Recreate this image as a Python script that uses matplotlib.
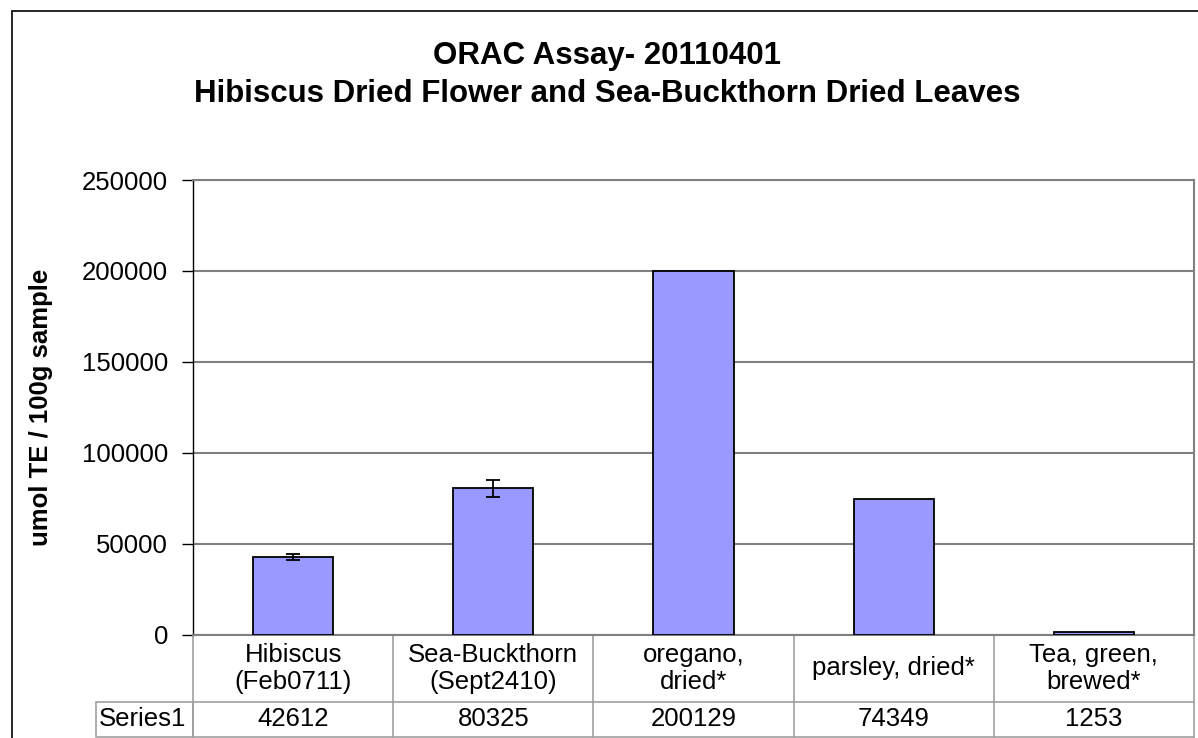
import numpy as np
import matplotlib.pyplot as plt
from matplotlib.patches import Rectangle
from matplotlib.transforms import blended_transform_factory

plt.rcParams['font.family'] = ['Liberation Sans', 'DejaVu Sans']

categories = ['Hibiscus\n(Feb0711)', 'Sea-Buckthorn\n(Sept2410)', 'oregano,\ndried*',
              'parsley, dried*', 'Tea, green,\nbrewed*']
values = [42612, 80325, 200129, 74349, 1253]
errors = [1900, 4700, 0, 0, 0]
series_name = 'Series1'
yticks = [0, 50000, 100000, 150000, 200000, 250000]

W, H = 1198, 738
fig = plt.figure(figsize=(W / 100, H / 100), dpi=100)
ax = fig.add_axes([193 / W, 1 - 634.5 / H, (1194 - 193) / W, (634.5 - 180) / H])

x = np.arange(len(values))
ax.bar(x, values, width=0.4, color='#9999FF', edgecolor='black', linewidth=1.3, zorder=3)
ax.errorbar(x[:2], values[:2], yerr=errors[:2], fmt='none', ecolor='black',
            elinewidth=1.3, capsize=5, capthick=1.3, zorder=4)

ax.set_xlim(-0.5, len(values) - 0.5)
ax.set_ylim(0, 250000)
ax.set_yticks(yticks)
ax.set_yticklabels([str(t) for t in yticks], fontsize=18.5)
ax.tick_params(axis='y', direction='out', length=8, width=1, pad=10)
ax.set_xticks([])
ax.yaxis.grid(True, color='#808080', linewidth=1.5, zorder=0)
ax.set_axisbelow(True)

for s in ['top', 'right', 'bottom']:
    ax.spines[s].set_color('#808080')
    ax.spines[s].set_linewidth(1.5)
ax.spines['left'].set_color('black')
ax.spines['left'].set_linewidth(1)

ax.set_ylabel('umol TE / 100g sample', fontsize=18.5, fontweight='bold')
ax.yaxis.set_label_coords((53 - 193) / (1194 - 193), 0.5)

# data table under the plot
tr = blended_transform_factory(ax.transData, ax.transAxes)
ax_h = (634.5 - 180)
row1 = -(702 - 634.5) / ax_h
row2 = -(737 - 634.5) / ax_h
tcol = '#A0A0A0'
for k in range(len(values) + 1):
    ax.plot([k - 0.5, k - 0.5], [0, row2], transform=tr, color=tcol, lw=1.2, clip_on=False)
ax.plot([-0.5, len(values) - 0.5], [row1, row1], transform=tr, color=tcol, lw=1.2, clip_on=False)
ax.plot([-0.5, len(values) - 0.5], [row2, row2], transform=tr, color=tcol, lw=1.2, clip_on=False)

for k, (c, v) in enumerate(zip(categories, values)):
    ax.text(k, row1 / 2, c, transform=tr, ha='center', va='center', fontsize=18.5,
            linespacing=1.15)
    ax.text(k, (row1 + row2) / 2, str(v), transform=tr, ha='center', va='center', fontsize=18.5)

# row label cell
lab_left = (96 - 193) / (1194 - 193)
ax.add_patch(Rectangle((lab_left, row2), -lab_left, row1 - row2, transform=ax.transAxes,
                       fill=False, edgecolor=tcol, lw=1.2, clip_on=False))
ax.text(lab_left + 0.003, (row1 + row2) / 2, series_name, transform=ax.transAxes,
        ha='left', va='center', fontsize=18.5)

fig.text(607 / W, 1 - 64 / H, 'ORAC Assay- 20110401', ha='center', va='baseline',
         fontsize=22.5, fontweight='bold')
fig.text(607 / W, 1 - 101.5 / H, 'Hibiscus Dried Flower and Sea-Buckthorn Dried Leaves',
         ha='center', va='baseline', fontsize=22.5, fontweight='bold')

# chart area border
fig.patches.append(Rectangle((12 / W, -0.1), 1.2, 1 - 11 / H + 0.1, transform=fig.transFigure,
                             fill=False, edgecolor='black', lw=1.2))

fig.savefig('out.png', dpi=100)
